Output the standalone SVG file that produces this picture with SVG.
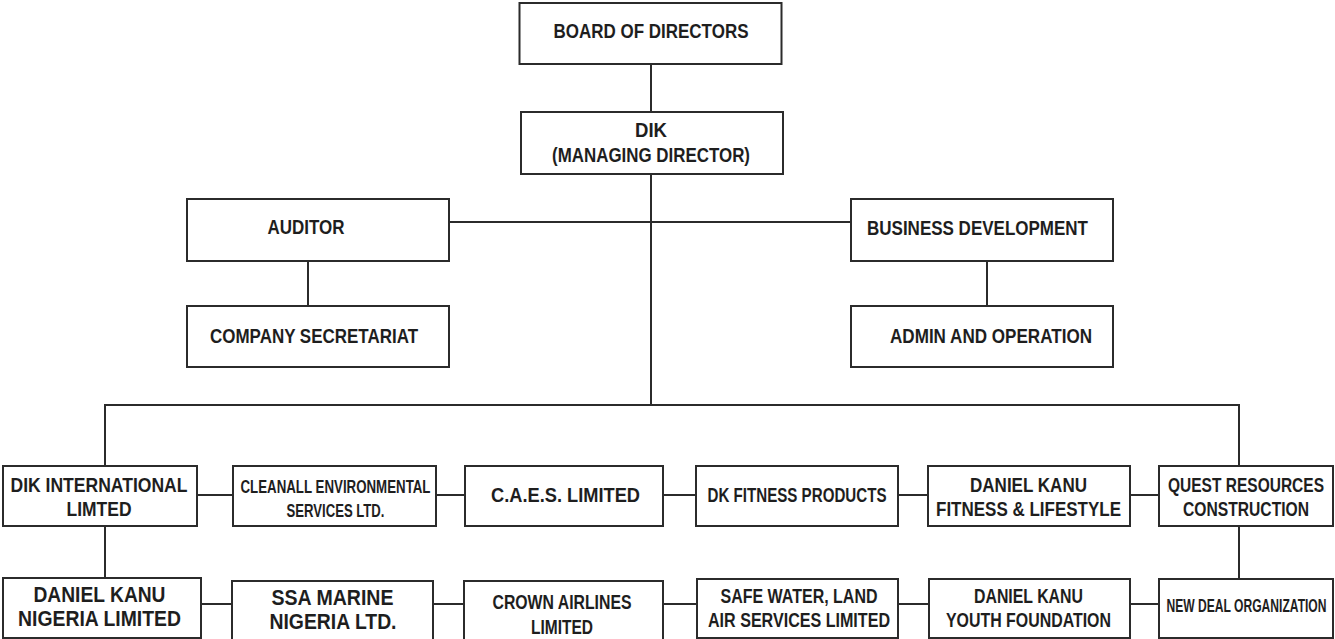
<svg xmlns="http://www.w3.org/2000/svg" width="1335" height="639" viewBox="0 0 1335 639">
<style>
.box{fill:#fff;stroke:#2b2b2b;stroke-width:2}
.ln{fill:none;stroke:#2b2b2b;stroke-width:2}
text{font-family:"Liberation Sans",Arial,sans-serif;font-weight:bold;fill:#1e1e1e;text-anchor:middle}
.t19{font-size:19.5px}
.t18{font-size:18.5px}
.t21{font-size:21.5px}
</style>
<rect width="1335" height="639" fill="#fff"/>
<g id="connectors">
<path class="ln" d="M651 64V112"/>
<path class="ln" d="M651 174V405"/>
<path class="ln" d="M449 222H851"/>
<path class="ln" d="M308 261V306"/>
<path class="ln" d="M987 261V306"/>
<path class="ln" d="M105 466V405H1239V466"/>
<path class="ln" d="M197 495H233M436 495H465M663 495H696M898 495H928M1130 495H1159"/>
<path class="ln" d="M105 526V578"/>
<path class="ln" d="M1239 526V579"/>
<path class="ln" d="M201 604H232M433 604H464M663 604H697M898 604H929M1130 604H1159"/>
</g>
<g id="board"><rect class="box" x="519.5" y="3" width="262" height="61"/><text class="t19" x="651" y="37.5" textLength="195" lengthAdjust="spacingAndGlyphs">BOARD OF DIRECTORS</text></g>
<g id="dik"><rect class="box" x="521" y="112" width="262" height="62"/><text class="t19" x="651" y="137" textLength="32" lengthAdjust="spacingAndGlyphs">DIK</text><text class="t19" x="651" y="162" textLength="198" lengthAdjust="spacingAndGlyphs">(MANAGING DIRECTOR)</text></g>
<g id="auditor"><rect class="box" x="187" y="199" width="262" height="62"/><text class="t19" x="306" y="234" textLength="77" lengthAdjust="spacingAndGlyphs">AUDITOR</text></g>
<g id="company-secretariat"><rect class="box" x="187" y="306" width="262" height="61"/><text class="t19" x="314" y="343" textLength="208" lengthAdjust="spacingAndGlyphs">COMPANY SECRETARIAT</text></g>
<g id="business-development"><rect class="box" x="851" y="199" width="262" height="62"/><text class="t19" x="977.5" y="235" textLength="221" lengthAdjust="spacingAndGlyphs">BUSINESS DEVELOPMENT</text></g>
<g id="admin-operation"><rect class="box" x="851" y="306" width="262" height="61"/><text class="t19" x="991" y="343" textLength="202" lengthAdjust="spacingAndGlyphs">ADMIN AND OPERATION</text></g>
<g id="dik-international"><rect class="box" x="3" y="466" width="194" height="60"/><text class="t19" x="99" y="491.5" textLength="177" lengthAdjust="spacingAndGlyphs">DIK INTERNATIONAL</text><text class="t19" x="99" y="516" textLength="65" lengthAdjust="spacingAndGlyphs">LIMTED</text></g>
<g id="cleanall"><rect class="box" x="233" y="466" width="203" height="60"/><text class="t18" x="335.5" y="493" textLength="190" lengthAdjust="spacingAndGlyphs">CLEANALL ENVIRONMENTAL</text><text class="t18" x="335.5" y="516.5" textLength="98" lengthAdjust="spacingAndGlyphs">SERVICES LTD.</text></g>
<g id="caes"><rect class="box" x="465" y="466" width="198" height="60"/><text class="t19" x="565.5" y="501.5" textLength="149" lengthAdjust="spacingAndGlyphs">C.A.E.S. LIMITED</text></g>
<g id="dk-fitness"><rect class="box" x="696" y="466" width="202" height="60"/><text class="t19" x="797" y="501.5" textLength="179" lengthAdjust="spacingAndGlyphs">DK FITNESS PRODUCTS</text></g>
<g id="dk-fitness-lifestyle"><rect class="box" x="928" y="466" width="202" height="60"/><text class="t19" x="1028.5" y="491.5" textLength="117" lengthAdjust="spacingAndGlyphs">DANIEL KANU</text><text class="t19" x="1028.5" y="516" textLength="185" lengthAdjust="spacingAndGlyphs">FITNESS &amp; LIFESTYLE</text></g>
<g id="quest"><rect class="box" x="1159" y="466" width="174" height="60"/><text class="t19" transform="translate(1246 491.5) scale(0.8 1)" x="0" y="0" textLength="195" lengthAdjust="spacingAndGlyphs">QUEST RESOURCES</text><text class="t19" transform="translate(1246 516) scale(0.8 1)" x="0" y="0" textLength="157.5" lengthAdjust="spacingAndGlyphs">CONSTRUCTION</text></g>
<g id="dk-nigeria"><rect class="box" x="3" y="578" width="198" height="60"/><text class="t21" x="99.5" y="602" textLength="132" lengthAdjust="spacingAndGlyphs">DANIEL KANU</text><text class="t21" x="99.5" y="625.5" textLength="163" lengthAdjust="spacingAndGlyphs">NIGERIA LIMITED</text></g>
<g id="ssa-marine"><rect class="box" x="232" y="581" width="201" height="60"/><text class="t21" x="332.5" y="605" textLength="122" lengthAdjust="spacingAndGlyphs">SSA MARINE</text><text class="t21" x="333" y="629" textLength="127" lengthAdjust="spacingAndGlyphs">NIGERIA LTD.</text></g>
<g id="crown-airlines"><rect class="box" x="464" y="581" width="199" height="60"/><text class="t19" x="562" y="609" textLength="139" lengthAdjust="spacingAndGlyphs">CROWN AIRLINES</text><text class="t19" x="562" y="634" textLength="62" lengthAdjust="spacingAndGlyphs">LIMITED</text></g>
<g id="safe-water"><rect class="box" x="697" y="579" width="201" height="59"/><text class="t19" x="799" y="603" textLength="157" lengthAdjust="spacingAndGlyphs">SAFE WATER, LAND</text><text class="t19" x="799" y="627" textLength="182" lengthAdjust="spacingAndGlyphs">AIR SERVICES LIMITED</text></g>
<g id="dk-youth"><rect class="box" x="929" y="579" width="201" height="59"/><text class="t19" x="1028.5" y="603" textLength="109" lengthAdjust="spacingAndGlyphs">DANIEL KANU</text><text class="t19" x="1028.5" y="626.5" textLength="165" lengthAdjust="spacingAndGlyphs">YOUTH FOUNDATION</text></g>
<g id="new-deal"><rect class="box" x="1159" y="579" width="174" height="59"/><text class="t18" transform="translate(1246.5 612) scale(0.62 1)" x="0" y="0" textLength="258" lengthAdjust="spacingAndGlyphs">NEW DEAL ORGANIZATION</text></g>
</svg>
